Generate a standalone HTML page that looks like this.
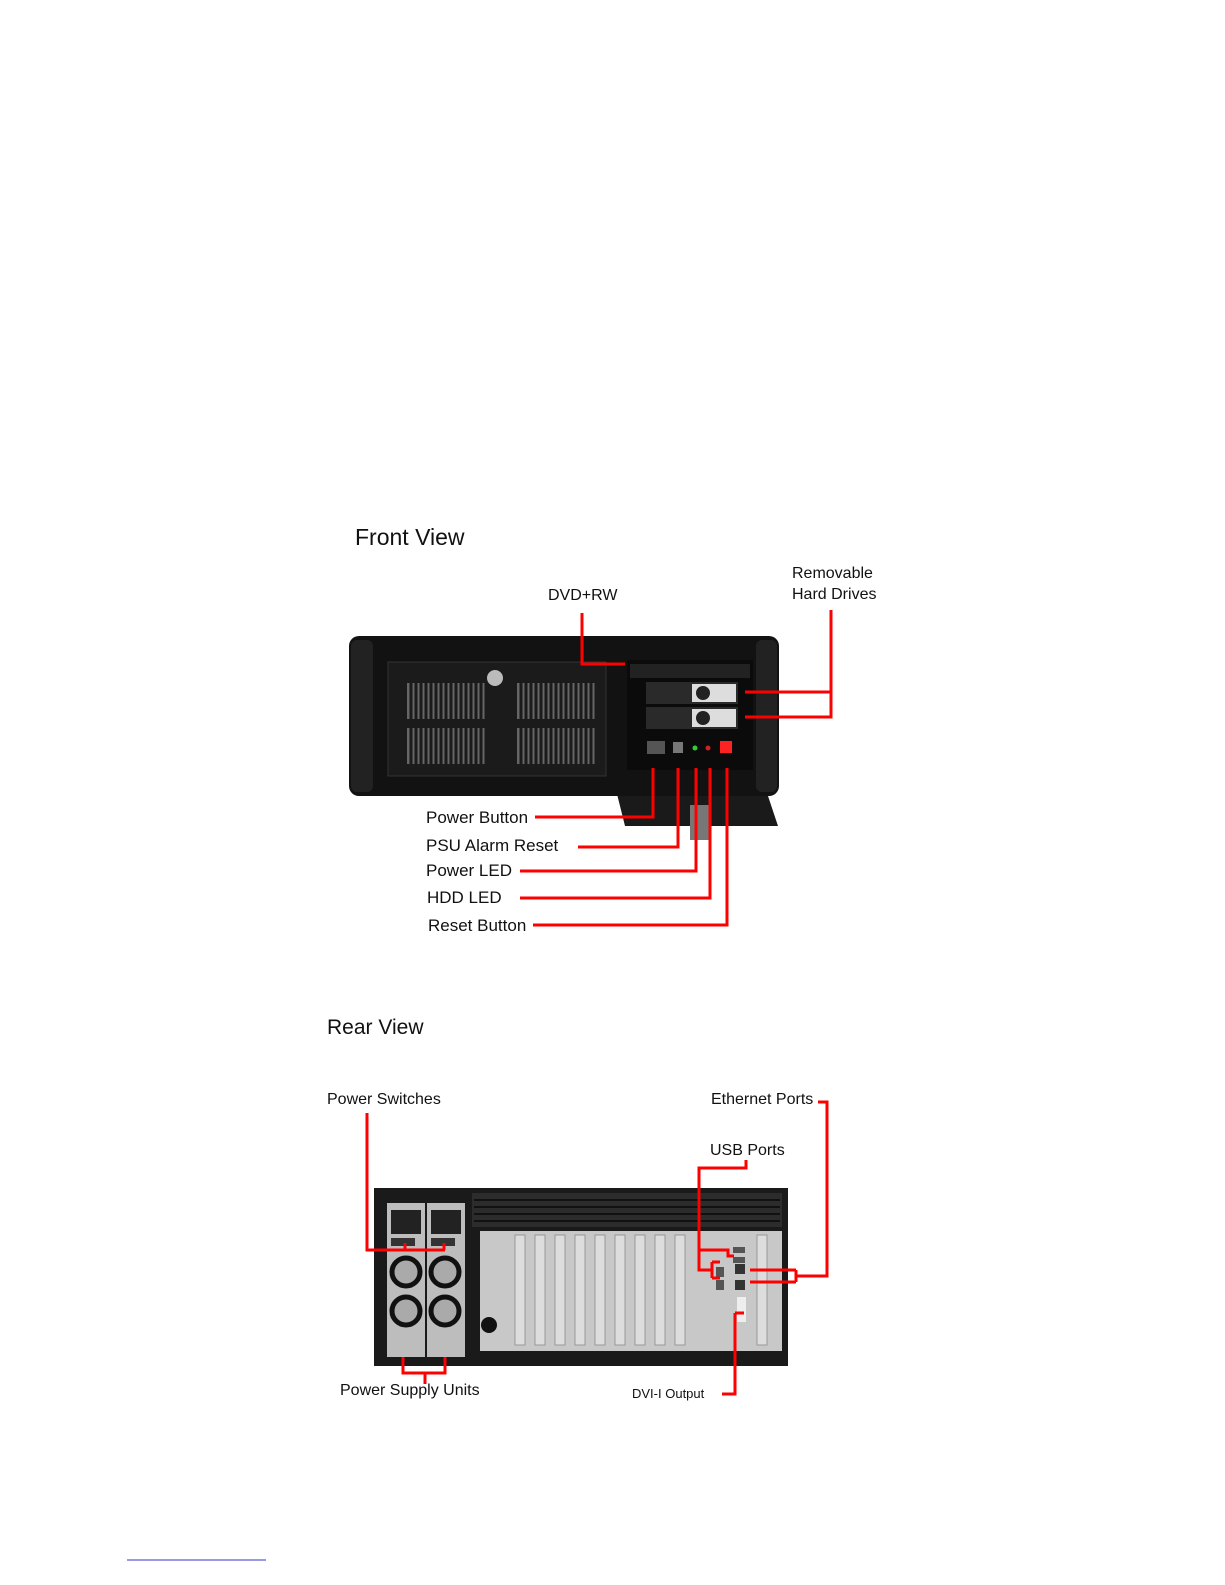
<!DOCTYPE html>
<html><head><meta charset="utf-8"><style>
html,body{margin:0;padding:0;background:#fff}
svg{display:block}
.f{font-family:"Liberation Sans",sans-serif;fill:#111}
</style></head><body>
<svg width="1225" height="1585" viewBox="0 0 1225 1585" xmlns="http://www.w3.org/2000/svg">
<!-- FRONT VIEW -->
<text class="f" x="355" y="545" font-size="23">Front View</text>
<text class="f" x="548" y="600" font-size="16">DVD+RW</text>
<text class="f" x="792" y="578" font-size="16">Removable</text>
<text class="f" x="792" y="599" font-size="16">Hard Drives</text>
<!-- drawer plate -->
<polygon points="616,790 766,790 778,826 625,826" fill="#1a1a1a"/>
<rect x="690" y="805" width="20" height="35" fill="#777"/>
<!-- chassis -->
<rect x="349" y="636" width="430" height="160" rx="10" fill="#121212"/>
<rect x="351" y="640" width="22" height="152" rx="6" fill="#222"/>
<rect x="756" y="640" width="21" height="152" rx="6" fill="#222"/>
<rect x="388" y="662" width="218" height="114" fill="#1b1b1b" stroke="#333"/>
<g fill="#666">
<rect x="407" y="683" width="80" height="36"/><rect x="517" y="683" width="80" height="36"/>
<rect x="407" y="728" width="80" height="36"/><rect x="517" y="728" width="80" height="36"/>
</g>
<g stroke="#1b1b1b" stroke-width="3">
<path d="M411,683V764M416,683V764M421,683V764M426,683V764M431,683V764M436,683V764M441,683V764M446,683V764M451,683V764M456,683V764M461,683V764M466,683V764M471,683V764M476,683V764M481,683V764M486,683V764"/>
<path d="M521,683V764M526,683V764M531,683V764M536,683V764M541,683V764M546,683V764M551,683V764M556,683V764M561,683V764M566,683V764M571,683V764M576,683V764M581,683V764M586,683V764M591,683V764M596,683V764"/>
</g>
<rect x="407" y="719" width="190" height="9" fill="#1b1b1b"/>
<circle cx="495" cy="678" r="8" fill="#bbb"/>
<rect x="627" y="660" width="126" height="110" fill="#0b0b0b"/>
<rect x="630" y="664" width="120" height="14" fill="#222"/>
<rect x="646" y="682" width="92" height="22" fill="#2a2a2a"/>
<rect x="692" y="684" width="44" height="18" fill="#ddd"/><circle cx="703" cy="693" r="7" fill="#222"/>
<rect x="646" y="707" width="92" height="22" fill="#2a2a2a"/>
<rect x="692" y="709" width="44" height="18" fill="#ddd"/><circle cx="703" cy="718" r="7" fill="#222"/>
<rect x="647" y="741" width="18" height="13" fill="#555"/>
<rect x="673" y="742" width="10" height="11" fill="#777"/>
<circle cx="695" cy="748" r="2.5" fill="#3c3"/>
<circle cx="708" cy="748" r="2.5" fill="#c22"/>
<rect x="720" y="741" width="12" height="12" fill="#f22"/>
<!-- front red lines -->
<g stroke="#f00" stroke-width="3" fill="none">
<path d="M582,613V664H625"/>
<path d="M745,692H831V610M745,717H831V692"/>
<path d="M653,768V817H535"/>
<path d="M678,768V847H578"/>
<path d="M696,768V871H520"/>
<path d="M710,768V898H520"/>
<path d="M727,768V925H533"/>
</g>
<text class="f" x="426" y="823" font-size="17">Power Button</text>
<text class="f" x="426" y="851" font-size="17">PSU Alarm Reset</text>
<text class="f" x="426" y="876" font-size="17">Power LED</text>
<text class="f" x="427" y="903" font-size="17">HDD LED</text>
<text class="f" x="428" y="931" font-size="17">Reset Button</text>

<!-- REAR VIEW -->
<text class="f" x="327" y="1034" font-size="21">Rear View</text>
<text class="f" x="327" y="1104" font-size="16">Power Switches</text>
<text class="f" x="711" y="1104" font-size="16">Ethernet Ports</text>
<text class="f" x="710" y="1155" font-size="16">USB Ports</text>
<text class="f" x="340" y="1395" font-size="16">Power Supply Units</text>
<text class="f" x="632" y="1398" font-size="13">DVI-I Output</text>
<rect x="374" y="1188" width="414" height="178" fill="#1a1a1a"/>
<rect x="472" y="1193" width="310" height="34" fill="#2c2c2c"/>
<g stroke="#111" stroke-width="2"><path d="M474,1200H780M474,1207H780M474,1214H780M474,1221H780"/></g>
<rect x="387" y="1203" width="38" height="154" fill="#bdbdbd"/>
<rect x="427" y="1203" width="38" height="154" fill="#bdbdbd"/>
<rect x="391" y="1210" width="30" height="24" fill="#222"/><rect x="431" y="1210" width="30" height="24" fill="#222"/>
<rect x="391" y="1238" width="24" height="8" fill="#333"/><rect x="431" y="1238" width="24" height="8" fill="#333"/>
<g fill="#aaa" stroke="#111" stroke-width="5">
<circle cx="406" cy="1272" r="14"/><circle cx="445" cy="1272" r="14"/>
<circle cx="406" cy="1311" r="14"/><circle cx="445" cy="1311" r="14"/>
</g>
<rect x="480" y="1231" width="302" height="120" fill="#c8c8c8"/>
<g fill="#ddd" stroke="#999"><path d="M515,1235h10v110h-10zM535,1235h10v110h-10zM555,1235h10v110h-10zM575,1235h10v110h-10zM595,1235h10v110h-10zM615,1235h10v110h-10zM635,1235h10v110h-10zM655,1235h10v110h-10zM675,1235h10v110h-10zM757,1235h10v110h-10z"/></g>
<circle cx="489" cy="1325" r="8" fill="#111"/>
<rect x="733" y="1247" width="12" height="6" fill="#555"/><rect x="733" y="1257" width="12" height="6" fill="#555"/>
<rect x="716" y="1267" width="8" height="10" fill="#555"/><rect x="716" y="1280" width="8" height="10" fill="#555"/>
<rect x="735" y="1264" width="10" height="10" fill="#333"/><rect x="735" y="1280" width="10" height="10" fill="#333"/>
<rect x="737" y="1297" width="9" height="25" fill="#eee"/>
<!-- rear red lines -->
<g stroke="#f00" stroke-width="3" fill="none">
<path d="M367,1113V1250H445M405,1250V1243M444,1250V1243"/>
<path d="M403,1357V1373H445V1357M425,1373V1384"/>
<path d="M818,1102H827V1276H796M796,1270V1282M750,1270H796M750,1282H796"/>
<path d="M746,1160V1168H699V1270H712M712,1262V1278M712,1262H720M712,1278H720M699,1250H728V1256H734"/>
<path d="M735,1313V1394H722M735,1313H744"/>
</g>
<line x1="127" y1="1560" x2="266" y2="1560" stroke="#33c" stroke-width="1"/>
</svg>
</body></html>
